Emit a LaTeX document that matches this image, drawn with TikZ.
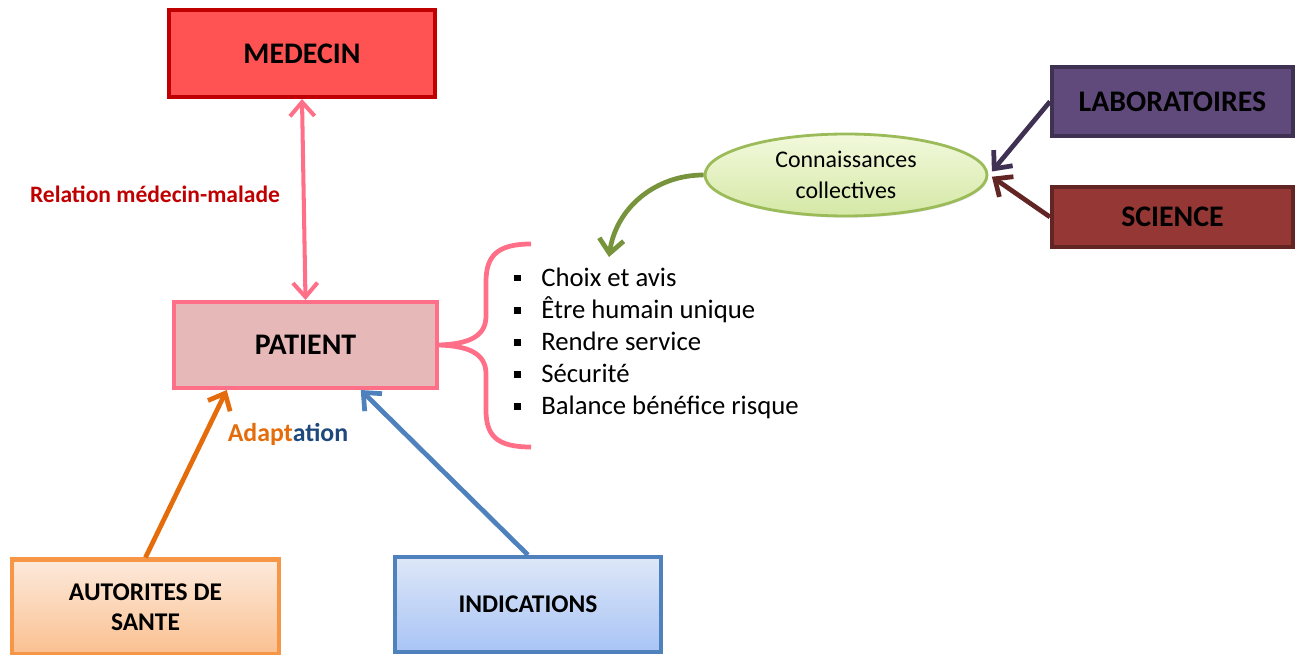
\documentclass[tikz,border=0pt]{standalone}
\usepackage{fontspec}
\setmainfont{Carlito}
\usetikzlibrary{arrows.meta,shapes.geometric,shadows,calc}

\definecolor{medfill}{HTML}{FF5353}
\definecolor{medline}{HTML}{C00000}
\definecolor{patfill}{HTML}{E6B9B8}
\definecolor{patline}{HTML}{FF7088}
\definecolor{labfill}{HTML}{604A7B}
\definecolor{labline}{HTML}{3F3151}
\definecolor{scifill}{HTML}{953735}
\definecolor{sciline}{HTML}{632523}
\definecolor{conline}{HTML}{9BBB59}
\definecolor{contop}{HTML}{F2F9DC}
\definecolor{conbot}{HTML}{D5E8A6}
\definecolor{conarrow}{HTML}{77933C}
\definecolor{autline}{HTML}{F79646}
\definecolor{auttop}{HTML}{FDEADC}
\definecolor{autbot}{HTML}{FAC090}
\definecolor{autarrow}{HTML}{E46C0A}
\definecolor{indline}{HTML}{4F81BD}
\definecolor{indtop}{HTML}{DDE7F8}
\definecolor{indbot}{HTML}{A9C4F5}
\definecolor{adblue}{HTML}{1F497D}

\begin{document}
\begin{tikzpicture}[x=0.02cm,y=-0.02cm,
    box/.style={draw,line width=2.3pt,inner sep=2pt,align=center,
      drop shadow={shadow xshift=0.6pt,shadow yshift=-1pt,opacity=0.25}},
    bigtxt/.style={font=\fontsize{17}{20}\selectfont\bfseries},
    smalltxt/.style={font=\fontsize{14.5}{17}\selectfont\bfseries},
    barb/.tip={Straight Barb[length=8pt,width=14pt]},
    arr/.style={line width=2.7pt,-barb}]
  \useasboundingbox (0,0) rectangle (1301,655);

  % boxes
  \node[box,bigtxt,fill=medfill,draw=medline,minimum width=5.32cm,minimum height=1.74cm]
    (medecin) at (302,53.5) {MEDECIN};
  \node[box,bigtxt,fill=patfill,draw=patline,minimum width=5.26cm,minimum height=1.72cm]
    (patient) at (305.5,345) {PATIENT};
  \node[box,bigtxt,fill=labfill,draw=labline,minimum width=4.82cm,minimum height=1.38cm]
    (labo) at (1172.5,101.5) {LABORATOIRES};
  \node[box,bigtxt,fill=scifill,draw=sciline,minimum width=4.82cm,minimum height=1.2cm]
    (science) at (1172.5,217) {SCIENCE};
  \node[box,smalltxt,top color=auttop,bottom color=autbot,draw=autline,
    minimum width=5.34cm,minimum height=1.9cm] (autorites) at (145.5,607)
    {AUTORITES DE\\[0pt] SANTE};
  \node[box,smalltxt,top color=indtop,bottom color=indbot,draw=indline,
    minimum width=5.32cm,minimum height=1.9cm] (indications) at (528,604.5) {INDICATIONS};
  \node[ellipse,draw=conline,line width=1.6pt,top color=contop,bottom color=conbot,
    minimum width=5.64cm,minimum height=1.64cm,inner sep=0pt,align=center,
    font=\fontsize{13.6}{17}\selectfont,
    drop shadow={shadow xshift=0.6pt,shadow yshift=-1pt,opacity=0.2}]
    (connaiss) at (846,175) {Connaissances\\[1pt] collectives};

  % labels
  \node[text=medline,font=\fontsize{13.4}{16}\selectfont\bfseries] (relation) at (155,194)
    {Relation médecin-malade};
  \node[font=\fontsize{14.7}{17}\selectfont\bfseries] (adaptation) at (288,434)
    {\textcolor{autarrow}{Adapt}\textcolor{adblue}{ation}};

  % list
  \foreach[count=\i,evaluate={278+32*(\i-1)} as \y] \t in
      {Choix et avis,Être humain unique,Rendre service,Sécurité,Balance bénéfice risque} {
    \node[fill=black,minimum size=0.14cm,inner sep=0pt] (bul\i) at (517.5,\y) {};
    \node[anchor=base west,inner sep=0pt,font=\fontsize{15.2}{18}\selectfont]
      (item\i) at (541,\y+8) {\t};
  }

  % brace
  \coordinate (bracetop) at (531,244);
  \coordinate (bracebot) at (531,447);
  \draw[patline,line width=2.7pt]
    (bracetop) .. controls (497,244) and (486,256) .. (486,282)
    -- (486,316) .. controls (486,338) and (466,344) .. (patient.east)
    .. controls (466,346) and (486,352) .. (486,374)
    -- (486,410) .. controls (486,436) and (497,447) .. (bracebot);

  % connectors
  \draw[arr,line width=2.3pt,barb-barb,patline] (medecin.south) -- (patient.north);
  \draw[arr,autarrow] (autorites.north)
    -- ($(patient.south west)!0.205!(patient.south east)$);
  \draw[arr,indline] (indications.north)
    -- ($(patient.south west)!0.707!(patient.south east)$);
  \draw[arr,labline] (labo.west) -- ([xshift=2pt,yshift=2pt]connaiss.east);
  \draw[arr,sciline] (science.west) -- ([xshift=2pt,yshift=-1pt]connaiss.east);
  \coordinate (listtop) at (609,257);
  \draw[arr,conarrow] (connaiss.west) to[out=180,in=82] (listtop);
\end{tikzpicture}
\end{document}
